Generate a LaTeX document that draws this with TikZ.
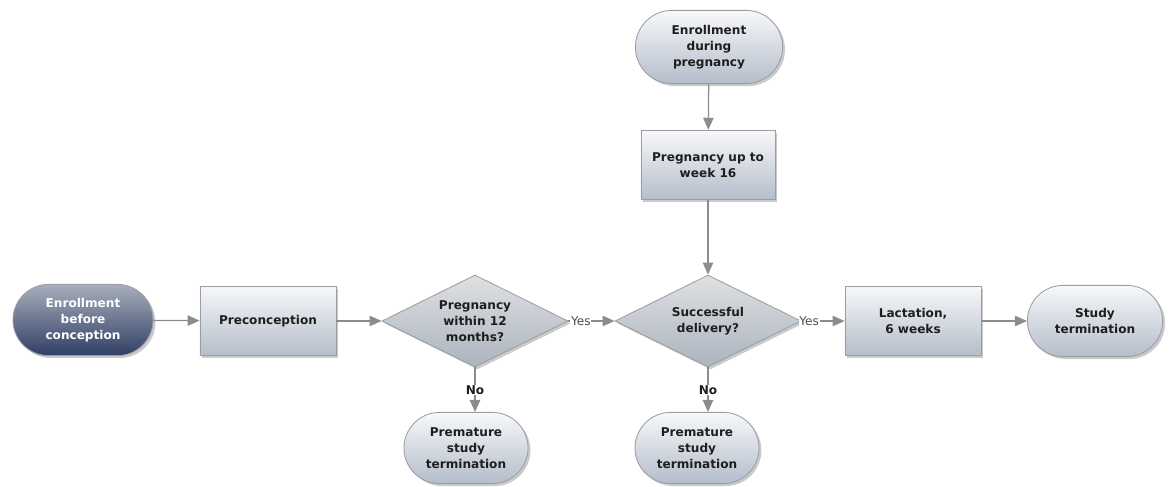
\documentclass[tikz,border=0pt]{standalone}
\usepackage{fontspec}
\setmainfont{DejaVu Sans}
\usetikzlibrary{arrows.meta,positioning,shapes.geometric,shapes.misc,shadows}

\definecolor{linegray}{HTML}{8C8C8C}
\definecolor{edgegray}{HTML}{9A9EA4}
\definecolor{boxtop}{HTML}{F7F8FA}
\definecolor{boxbottom}{HTML}{B4BDCA}
\definecolor{darktop}{HTML}{A7AFBC}
\definecolor{darkbottom}{HTML}{2F3E64}
\definecolor{texdark}{HTML}{1E1E1E}

\tikzset{
  base/.style={draw=edgegray, line width=0.6pt, align=center, inner sep=0pt,
    text=texdark, font=\fontsize{8.6}{11.3}\selectfont\bfseries,
    top color=boxtop, bottom color=boxbottom,
    drop shadow={shadow xshift=0.06cm, shadow yshift=-0.06cm, opacity=0.35, fill=black!60}},
  stepbox/.style={base, rectangle, minimum width=3.4cm, minimum height=1.74cm},
  terminal/.style={base, rounded rectangle, minimum height=1.78cm},
  decision/.style={base, diamond, aspect=2, minimum width=4.65cm, minimum height=2.3cm,
    top color=boxtop!80!gray, bottom color=boxbottom!85!gray},
  startdark/.style={terminal, top color=darktop, bottom color=darkbottom, text=white},
  flow/.style={draw=linegray, line width=0.9pt,
    -{Triangle[length=0.3cm, width=0.26cm, fill=linegray]}},
  yeslabel/.style={fill=white, inner sep=0.5pt, text=black!70,
    font=\fontsize{8.6}{10}\selectfont},
  nolabel/.style={fill=white, inner sep=0.5pt, text=texdark,
    font=\fontsize{8.6}{10}\selectfont\bfseries},
}

\begin{document}
\begin{tikzpicture}[x=0.025cm, y=-0.025cm]
    \useasboundingbox (0,0) rectangle (1169,486);

    % Main line
    \node[startdark, minimum width=3.5cm] (ebc) at (83,320) {Enrollment\\before\\conception};
    \node[stepbox] (pre) at (268,321) {Preconception};
    \node[decision] (dpreg) at (475,321) {Pregnancy\\within 12\\months?};
    \node[decision] (ddel) at (708,321) {Successful\\delivery?};
    \node[stepbox] (lac) at (913,321) {Lactation,\\6 weeks};
    \node[terminal, minimum width=3.38cm] (stop) at (1095,321) {Study\\termination};

    % Top branch
    \node[terminal, minimum width=3.68cm, minimum height=1.83cm] (edp) at (709,47) {Enrollment\\during\\pregnancy};
    \node[stepbox, minimum width=3.35cm] (w16) at (708,165) {Pregnancy up to\\week 16};

    % Premature ends
    \node[terminal, minimum width=3.1cm] (prem1) at (466,448) {Premature\\study\\termination};
    \node[terminal, minimum width=3.1cm] (prem2) at (697,448) {Premature\\study\\termination};

    % Connectors
    \draw[flow] (ebc) -- (pre);
    \draw[flow] (pre) -- (dpreg);
    \draw[flow] (dpreg.east) -- node[yeslabel, pos=0.27] {Yes} (ddel.west);
    \draw[flow] (ddel.east) -- node[yeslabel, pos=0.18] {Yes} (lac.west);
    \draw[flow] (lac) -- (stop);
    \draw[flow] (edp) -- (w16);
    \draw[flow] (w16.south) -- (ddel.north);
    \draw[flow] (dpreg.south) -- node[nolabel, pos=0.5] {No} (dpreg.south |- prem1.north);
    \draw[flow] (ddel.south) -- node[nolabel, pos=0.5] {No} (ddel.south |- prem2.north);
\end{tikzpicture}
\end{document}
